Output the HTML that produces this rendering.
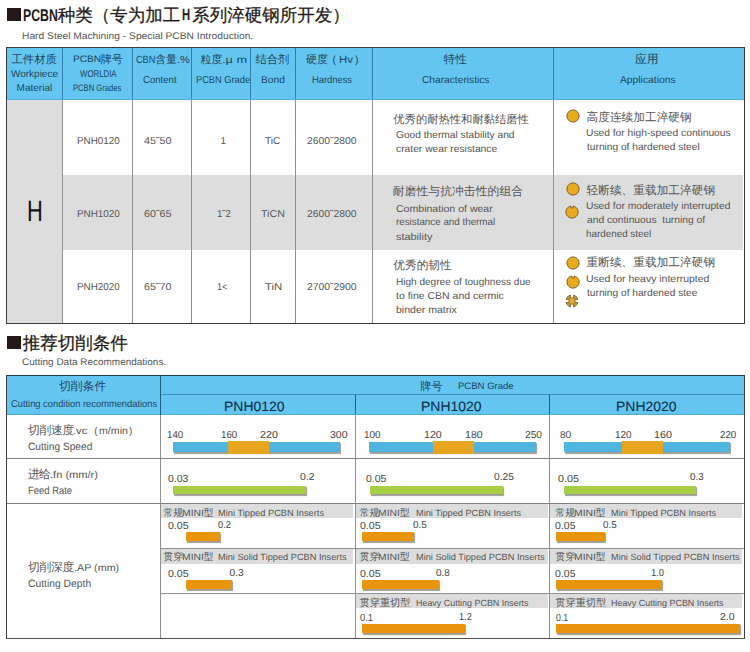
<!DOCTYPE html>
<html><head><meta charset="utf-8"><title>PCBN</title>
<style>
html,body{margin:0;padding:0;background:#fff;}
body{width:750px;height:652px;overflow:hidden;position:relative;font-family:"Liberation Sans",sans-serif;text-rendering:geometricPrecision;}
.t{position:absolute;white-space:nowrap;transform-origin:0 50%;}
.r{position:absolute;}
.ic{position:absolute;}
b.c{display:inline-block;font-weight:normal;text-align:center;}
.med b.c{-webkit-text-stroke:0.25px #231815;}
</style></head><body>
<div class="r" style="left:7.00px;top:7.50px;width:14.00px;height:13.50px;background:#231815;"></div>
<div id="t1" class="t " style="left:22.79px;top:6.80px;font-size:17.00px;line-height:17.00px;color:#231815;transform:scaleX(0.7234);font-weight:bold;">PCBN</div>
<div id="t2" class="t med" style="left:57.80px;top:6.80px;font-size:17.50px;line-height:17.50px;color:#231815;"><b class="c" style="width:17.50px">种</b><b class="c" style="width:17.50px">类</b><b class="c" style="width:17.50px">（</b><b class="c" style="width:17.50px">专</b><b class="c" style="width:17.50px">为</b><b class="c" style="width:17.50px">加</b><b class="c" style="width:17.50px">工</b></div>
<div id="t3" class="t " style="left:182.16px;top:7.30px;font-size:16.50px;line-height:16.50px;color:#231815;transform:scaleX(0.6818);font-weight:bold;">H</div>
<div id="t4" class="t med" style="left:192.20px;top:6.80px;font-size:17.50px;line-height:17.50px;color:#231815;"><b class="c" style="width:17.50px">系</b><b class="c" style="width:17.50px">列</b><b class="c" style="width:17.50px">淬</b><b class="c" style="width:17.50px">硬</b><b class="c" style="width:17.50px">钢</b><b class="c" style="width:17.50px">所</b><b class="c" style="width:17.50px">开</b><b class="c" style="width:17.50px">发</b><b class="c" style="width:17.50px">）</b></div>
<div id="t5" class="t " style="left:21.75px;top:31.70px;font-size:9.60px;line-height:9.60px;color:#555;transform:scaleX(1.0679);">Hard Steel Machining - Special PCBN Introduction.</div>
<div class="r" style="left:6.00px;top:47.00px;width:739.00px;height:52.50px;background:#64c6f0;"></div>
<div class="r" style="left:6.00px;top:99.50px;width:56.50px;height:224.00px;background:#dddddd;"></div>
<div class="r" style="left:62.50px;top:174.50px;width:680.00px;height:75.00px;background:#dddddd;"></div>
<div class="r" style="left:62.00px;top:47.50px;width:1.00px;height:52.00px;background:#2f7fae;"></div>
<div class="r" style="left:62.00px;top:99.50px;width:1.00px;height:224.00px;background:#909090;"></div>
<div class="r" style="left:132.00px;top:47.50px;width:1.00px;height:52.00px;background:#2f7fae;"></div>
<div class="r" style="left:132.00px;top:99.50px;width:1.00px;height:224.00px;background:#909090;"></div>
<div class="r" style="left:191.00px;top:47.50px;width:1.00px;height:52.00px;background:#2f7fae;"></div>
<div class="r" style="left:191.00px;top:99.50px;width:1.00px;height:224.00px;background:#909090;"></div>
<div class="r" style="left:249.50px;top:47.50px;width:1.00px;height:52.00px;background:#2f7fae;"></div>
<div class="r" style="left:249.50px;top:99.50px;width:1.00px;height:224.00px;background:#909090;"></div>
<div class="r" style="left:295.00px;top:47.50px;width:1.00px;height:52.00px;background:#2f7fae;"></div>
<div class="r" style="left:295.00px;top:99.50px;width:1.00px;height:224.00px;background:#909090;"></div>
<div class="r" style="left:372.00px;top:47.50px;width:1.00px;height:52.00px;background:#2f7fae;"></div>
<div class="r" style="left:372.00px;top:99.50px;width:1.00px;height:224.00px;background:#909090;"></div>
<div class="r" style="left:552.50px;top:47.50px;width:1.00px;height:52.00px;background:#2f7fae;"></div>
<div class="r" style="left:552.50px;top:99.50px;width:1.00px;height:224.00px;background:#909090;"></div>
<div class="r" style="left:6.00px;top:99.00px;width:739.00px;height:1.00px;background:#4fb0dc;"></div>
<div class="r" style="left:6.00px;top:47.00px;width:739.00px;height:1.00px;background:#3c3c3c;"></div>
<div class="r" style="left:6.00px;top:323.00px;width:739.00px;height:1.00px;background:#3c3c3c;"></div>
<div class="r" style="left:6.00px;top:47.00px;width:1.00px;height:277.00px;background:#3c3c3c;"></div>
<div class="r" style="left:744.00px;top:47.00px;width:1.00px;height:277.00px;background:#3c3c3c;"></div>
<div id="t6" class="t " style="left:11.40px;top:54.60px;font-size:11.40px;line-height:11.40px;color:#1c4560;"><b class="c" style="width:11.40px">工</b><b class="c" style="width:11.40px">件</b><b class="c" style="width:11.40px">材</b><b class="c" style="width:11.40px">质</b></div>
<div id="t7" class="t " style="left:11.00px;top:70.20px;font-size:10.00px;line-height:10.00px;color:#1c4560;transform:scaleX(0.9979);">Workpiece</div>
<div id="t8" class="t " style="left:16.60px;top:84.40px;font-size:10.00px;line-height:10.00px;color:#1c4560;">Material</div>
<div id="t9" class="t " style="left:72.92px;top:54.20px;font-size:9.40px;line-height:9.40px;color:#1c4560;transform:scaleX(1.0800);">PCBN</div>
<div id="t10" class="t " style="left:100.60px;top:54.60px;font-size:11.20px;line-height:11.20px;color:#1c4560;"><b class="c" style="width:11.20px">牌</b><b class="c" style="width:11.20px">号</b></div>
<div id="t11" class="t " style="left:79.91px;top:69.90px;font-size:9.80px;line-height:9.80px;color:#1c4560;transform:scaleX(0.8000);">WORLDIA</div>
<div id="t12" class="t " style="left:73.19px;top:83.30px;font-size:9.40px;line-height:9.40px;color:#1c4560;transform:scaleX(0.8138);">PCBN Grades</div>
<div id="t13" class="t " style="left:136.43px;top:54.70px;font-size:10.50px;line-height:10.50px;color:#1c4560;transform:scaleX(0.8714);">CBN</div>
<div id="t14" class="t " style="left:154.90px;top:54.70px;font-size:11.00px;line-height:11.00px;color:#1c4560;"><b class="c" style="width:11.00px">含</b><b class="c" style="width:11.00px">量</b></div>
<div id="t15" class="t " style="left:176.56px;top:54.70px;font-size:10.50px;line-height:10.50px;color:#1c4560;transform:scaleX(1.0545);">.%</div>
<div id="t16" class="t " style="left:142.61px;top:75.90px;font-size:10.00px;line-height:10.00px;color:#1c4560;transform:scaleX(0.9600);">Content</div>
<div id="t17" class="t " style="left:200.60px;top:54.70px;font-size:11.00px;line-height:11.00px;color:#1c4560;"><b class="c" style="width:11.00px">粒</b><b class="c" style="width:11.00px">度</b></div>
<div id="t18" class="t " style="left:222.26px;top:55.70px;font-size:10.00px;line-height:10.00px;color:#1c4560;transform:scaleX(1.2778);">.µ m</div>
<div id="t19" class="t " style="left:195.87px;top:75.90px;font-size:10.00px;line-height:10.00px;color:#1c4560;transform:scaleX(0.9263);">PCBN Grade</div>
<div id="t20" class="t " style="left:255.40px;top:54.70px;font-size:11.30px;line-height:11.30px;color:#1c4560;"><b class="c" style="width:11.30px">结</b><b class="c" style="width:11.30px">合</b><b class="c" style="width:11.30px">剂</b></div>
<div id="t21" class="t " style="left:260.99px;top:75.70px;font-size:10.00px;line-height:10.00px;color:#1c4560;transform:scaleX(1.0227);">Bond</div>
<div id="t22" class="t " style="left:306.00px;top:54.70px;font-size:11.00px;line-height:11.00px;color:#1c4560;"><b class="c" style="width:11.00px">硬</b><b class="c" style="width:11.00px">度</b></div>
<div id="t23" class="t " style="left:332.60px;top:54.70px;font-size:10.50px;line-height:10.50px;color:#1c4560;">(</div>
<div id="t24" class="t " style="left:338.70px;top:54.70px;font-size:10.50px;line-height:10.50px;color:#1c4560;transform:scaleX(1.0833);">Hv</div>
<div id="t25" class="t " style="left:355.00px;top:54.70px;font-size:10.50px;line-height:10.50px;color:#1c4560;">)</div>
<div id="t26" class="t " style="left:311.61px;top:75.90px;font-size:10.00px;line-height:10.00px;color:#1c4560;transform:scaleX(0.9357);">Hardness</div>
<div id="t27" class="t " style="left:443.60px;top:53.70px;font-size:11.60px;line-height:11.60px;color:#1c4560;"><b class="c" style="width:11.60px">特</b><b class="c" style="width:11.60px">性</b></div>
<div id="t28" class="t " style="left:422.00px;top:76.20px;font-size:10.00px;line-height:10.00px;color:#1c4560;transform:scaleX(1.0197);">Characteristics</div>
<div id="t29" class="t " style="left:635.00px;top:53.70px;font-size:11.80px;line-height:11.80px;color:#1c4560;"><b class="c" style="width:11.80px">应</b><b class="c" style="width:11.80px">用</b></div>
<div id="t30" class="t " style="left:620.38px;top:76.30px;font-size:10.00px;line-height:10.00px;color:#1c4560;transform:scaleX(1.0302);">Applications</div>
<div id="t31" class="t " style="left:26.65px;top:196.80px;font-size:29.50px;line-height:29.50px;color:#111;transform:scaleX(0.7412);">H</div>
<div id="t32" class="t " style="left:76.60px;top:136.90px;font-size:10.00px;line-height:10.00px;color:#555555;transform:scaleX(0.9860);">PNH0120</div>
<div id="t33" class="t " style="left:144.33px;top:136.90px;font-size:10.00px;line-height:10.00px;color:#555555;transform:scaleX(1.0720);">45˜50</div>
<div id="t34" class="t " style="left:220.60px;top:136.90px;font-size:10.00px;line-height:10.00px;color:#555555;">1</div>
<div id="t35" class="t " style="left:265.39px;top:136.90px;font-size:10.00px;line-height:10.00px;color:#555555;transform:scaleX(1.0133);">TiC</div>
<div id="t36" class="t " style="left:307.00px;top:136.90px;font-size:10.00px;line-height:10.00px;color:#555555;transform:scaleX(1.0354);">2600˜2800</div>
<div id="t37" class="t " style="left:76.60px;top:210.00px;font-size:10.00px;line-height:10.00px;color:#555555;transform:scaleX(0.9860);">PNH1020</div>
<div id="t38" class="t " style="left:144.33px;top:210.00px;font-size:10.00px;line-height:10.00px;color:#555555;transform:scaleX(1.0720);">60˜65</div>
<div id="t39" class="t " style="left:216.61px;top:210.00px;font-size:10.00px;line-height:10.00px;color:#555555;transform:scaleX(0.9571);">1˜2</div>
<div id="t40" class="t " style="left:261.17px;top:210.00px;font-size:10.00px;line-height:10.00px;color:#555555;transform:scaleX(1.0667);">TiCN</div>
<div id="t41" class="t " style="left:307.00px;top:210.00px;font-size:10.00px;line-height:10.00px;color:#555555;transform:scaleX(1.0354);">2600˜2800</div>
<div id="t42" class="t " style="left:76.60px;top:282.70px;font-size:10.00px;line-height:10.00px;color:#555555;transform:scaleX(0.9860);">PNH2020</div>
<div id="t43" class="t " style="left:144.33px;top:282.70px;font-size:10.00px;line-height:10.00px;color:#555555;transform:scaleX(1.0720);">65˜70</div>
<div id="t44" class="t " style="left:216.62px;top:282.70px;font-size:10.00px;line-height:10.00px;color:#555555;transform:scaleX(0.9091);">1&lt;</div>
<div id="t45" class="t " style="left:264.57px;top:282.70px;font-size:10.00px;line-height:10.00px;color:#555555;transform:scaleX(1.1429);">TiN</div>
<div id="t46" class="t " style="left:307.00px;top:282.70px;font-size:10.00px;line-height:10.00px;color:#555555;transform:scaleX(1.0354);">2700˜2900</div>
<div id="t47" class="t " style="left:393.30px;top:114.50px;font-size:11.30px;line-height:11.30px;color:#555555;"><b class="c" style="width:11.30px">优</b><b class="c" style="width:11.30px">秀</b><b class="c" style="width:11.30px">的</b><b class="c" style="width:11.30px">耐</b><b class="c" style="width:11.30px">热</b><b class="c" style="width:11.30px">性</b><b class="c" style="width:11.30px">和</b><b class="c" style="width:11.30px">耐</b><b class="c" style="width:11.30px">黏</b><b class="c" style="width:11.30px">结</b><b class="c" style="width:11.30px">磨</b><b class="c" style="width:11.30px">性</b></div>
<div id="t48" class="t " style="left:395.59px;top:130.60px;font-size:10.00px;line-height:10.00px;color:#555555;transform:scaleX(1.0198);">Good thermal stability and</div>
<div id="t49" class="t " style="left:395.59px;top:145.10px;font-size:10.00px;line-height:10.00px;color:#555555;transform:scaleX(1.0286);">crater wear resistance</div>
<div id="t50" class="t " style="left:392.80px;top:186.00px;font-size:11.85px;line-height:11.85px;color:#555555;"><b class="c" style="width:11.85px">耐</b><b class="c" style="width:11.85px">磨</b><b class="c" style="width:11.85px">性</b><b class="c" style="width:11.85px">与</b><b class="c" style="width:11.85px">抗</b><b class="c" style="width:11.85px">冲</b><b class="c" style="width:11.85px">击</b><b class="c" style="width:11.85px">性</b><b class="c" style="width:11.85px">的</b><b class="c" style="width:11.85px">组</b><b class="c" style="width:11.85px">合</b></div>
<div id="t51" class="t " style="left:395.59px;top:204.60px;font-size:10.00px;line-height:10.00px;color:#555555;transform:scaleX(1.0549);">Combination of wear</div>
<div id="t52" class="t " style="left:395.60px;top:218.40px;font-size:10.00px;line-height:10.00px;color:#555555;transform:scaleX(0.9802);">resistance and thermal</div>
<div id="t53" class="t " style="left:395.58px;top:232.70px;font-size:10.00px;line-height:10.00px;color:#555555;transform:scaleX(1.0909);">stability</div>
<div id="t54" class="t " style="left:393.30px;top:259.50px;font-size:11.70px;line-height:11.70px;color:#555555;"><b class="c" style="width:11.70px">优</b><b class="c" style="width:11.70px">秀</b><b class="c" style="width:11.70px">的</b><b class="c" style="width:11.70px">韧</b><b class="c" style="width:11.70px">性</b></div>
<div id="t55" class="t " style="left:395.60px;top:278.30px;font-size:10.00px;line-height:10.00px;color:#555555;transform:scaleX(1.0045);">High degree of toughness due</div>
<div id="t56" class="t " style="left:395.59px;top:292.10px;font-size:10.00px;line-height:10.00px;color:#555555;transform:scaleX(1.0490);">to fine CBN and cermic</div>
<div id="t57" class="t " style="left:395.59px;top:305.90px;font-size:10.00px;line-height:10.00px;color:#555555;transform:scaleX(1.0526);">binder matrix</div>
<div id="t58" class="t " style="left:586.50px;top:112.00px;font-size:11.70px;line-height:11.70px;color:#555555;"><b class="c" style="width:11.70px">高</b><b class="c" style="width:11.70px">度</b><b class="c" style="width:11.70px">连</b><b class="c" style="width:11.70px">续</b><b class="c" style="width:11.70px">加</b><b class="c" style="width:11.70px">工</b><b class="c" style="width:11.70px">淬</b><b class="c" style="width:11.70px">硬</b><b class="c" style="width:11.70px">钢</b></div>
<div id="t59" class="t " style="left:585.98px;top:129.40px;font-size:10.00px;line-height:10.00px;color:#555555;transform:scaleX(1.0243);">Used for high-speed continuous</div>
<div id="t60" class="t " style="left:587.00px;top:143.00px;font-size:10.00px;line-height:10.00px;color:#555555;transform:scaleX(1.0182);">turning of hardened steel</div>
<div id="t61" class="t " style="left:586.50px;top:185.00px;font-size:11.70px;line-height:11.70px;color:#555555;"><b class="c" style="width:11.70px">轻</b><b class="c" style="width:11.70px">断</b><b class="c" style="width:11.70px">续</b><b class="c" style="width:11.70px">、</b><b class="c" style="width:11.70px">重</b><b class="c" style="width:11.70px">载</b><b class="c" style="width:11.70px">加</b><b class="c" style="width:11.70px">工</b><b class="c" style="width:11.70px">淬</b><b class="c" style="width:11.70px">硬</b><b class="c" style="width:11.70px">钢</b></div>
<div id="t62" class="t " style="left:585.97px;top:202.30px;font-size:10.00px;line-height:10.00px;color:#555555;transform:scaleX(1.0266);">Used for moderately interrupted</div>
<div id="t63" class="t " style="left:587.00px;top:216.20px;font-size:10.00px;line-height:10.00px;color:#555555;transform:scaleX(1.0261);white-space:pre;">and continuous  turning of</div>
<div id="t64" class="t " style="left:586.02px;top:230.20px;font-size:10.00px;line-height:10.00px;color:#555555;transform:scaleX(0.9846);">hardened steel</div>
<div id="t65" class="t " style="left:586.50px;top:257.40px;font-size:11.70px;line-height:11.70px;color:#555555;"><b class="c" style="width:11.70px">重</b><b class="c" style="width:11.70px">断</b><b class="c" style="width:11.70px">续</b><b class="c" style="width:11.70px">、</b><b class="c" style="width:11.70px">重</b><b class="c" style="width:11.70px">载</b><b class="c" style="width:11.70px">加</b><b class="c" style="width:11.70px">工</b><b class="c" style="width:11.70px">淬</b><b class="c" style="width:11.70px">硬</b><b class="c" style="width:11.70px">钢</b></div>
<div id="t66" class="t " style="left:585.95px;top:275.30px;font-size:10.00px;line-height:10.00px;color:#555555;transform:scaleX(1.0466);">Used for heavy interrupted</div>
<div id="t67" class="t " style="left:587.00px;top:289.40px;font-size:10.00px;line-height:10.00px;color:#555555;transform:scaleX(1.0185);">turning of hardened stee</div>
<svg class="ic" style="left:564.50px;top:108.30px" width="16" height="16" viewBox="-8 -8 16 16"><circle r="6.10" fill="#eaaa1e" stroke="#7d6224" stroke-width="1"/></svg>
<svg class="ic" style="left:564.50px;top:181.40px" width="16" height="16" viewBox="-8 -8 16 16"><circle r="6.10" fill="#eaaa1e" stroke="#7d6224" stroke-width="1"/></svg>
<svg class="ic" style="left:564.30px;top:203.80px" width="16" height="16" viewBox="-8 -8 16 16"><path d="M-1.1,-6.0 A6.1,6.1 0 1 0 1.1,-6.0 L0.9,-4.0 L-0.9,-4.0 Z" fill="#eaaa1e" stroke="#7d6224" stroke-width="1" stroke-linejoin="round"/></svg>
<svg class="ic" style="left:564.50px;top:255.10px" width="16" height="16" viewBox="-8 -8 16 16"><circle r="6.10" fill="#eaaa1e" stroke="#7d6224" stroke-width="1"/></svg>
<svg class="ic" style="left:564.50px;top:274.40px" width="16" height="16" viewBox="-8 -8 16 16"><path d="M-1.1,-6.0 A6.1,6.1 0 1 0 1.1,-6.0 L0.9,-4.0 L-0.9,-4.0 Z" fill="#eaaa1e" stroke="#7d6224" stroke-width="1" stroke-linejoin="round"/></svg>
<svg class="ic" style="left:564.20px;top:293.00px" width="16" height="16" viewBox="-8 -8 16 16"><path d="M-1.6,-5.9 L-1.6,-3.0 L1.6,-3.0 L1.6,-5.9 A6.1,6.1 0 0 1 5.9,-1.6 L3.0,-1.6 L3.0,1.6 L5.9,1.6 A6.1,6.1 0 0 1 1.6,5.9 L1.6,3.0 L-1.6,3.0 L-1.6,5.9 A6.1,6.1 0 0 1 -5.9,1.6 L-3.0,1.6 L-3.0,-1.6 L-5.9,-1.6 A6.1,6.1 0 0 1 -1.6,-5.9 Z" fill="#c99d35" stroke="#7d6224" stroke-width="0.9" stroke-linejoin="round"/><rect x="-2.8" y="-2.8" width="5.6" height="5.6" fill="#e6ae2c" stroke="#9a7a30" stroke-width="0.6"/></svg>
<div class="r" style="left:7.00px;top:335.60px;width:13.80px;height:13.40px;background:#231815;"></div>
<div id="t68" class="t med" style="left:22.80px;top:335.20px;font-size:17.50px;line-height:17.50px;color:#231815;"><b class="c" style="width:17.50px">推</b><b class="c" style="width:17.50px">荐</b><b class="c" style="width:17.50px">切</b><b class="c" style="width:17.50px">削</b><b class="c" style="width:17.50px">条</b><b class="c" style="width:17.50px">件</b></div>
<div id="t69" class="t " style="left:22.38px;top:358.00px;font-size:9.60px;line-height:9.60px;color:#555;transform:scaleX(1.0399);">Cutting Data Recommendations.</div>
<div class="r" style="left:6.00px;top:375.00px;width:739.00px;height:39.50px;background:#64c6f0;"></div>
<div class="r" style="left:160.00px;top:394.30px;width:585.00px;height:1.00px;background:#3d8fbf;"></div>
<div class="r" style="left:6.00px;top:414.00px;width:739.00px;height:1.00px;background:#4fa8d0;"></div>
<div class="r" style="left:159.50px;top:375.50px;width:1.00px;height:39.00px;background:#1f5f80;"></div>
<div class="r" style="left:159.50px;top:414.50px;width:1.00px;height:224.00px;background:#909090;"></div>
<div class="r" style="left:354.50px;top:394.80px;width:1.00px;height:19.70px;background:#1f5f80;"></div>
<div class="r" style="left:354.50px;top:414.50px;width:1.00px;height:224.00px;background:#909090;"></div>
<div class="r" style="left:549.30px;top:394.80px;width:1.00px;height:19.70px;background:#1f5f80;"></div>
<div class="r" style="left:549.30px;top:414.50px;width:1.00px;height:224.00px;background:#909090;"></div>
<div class="r" style="left:6.00px;top:458.00px;width:739.00px;height:1.00px;background:#808080;"></div>
<div class="r" style="left:6.00px;top:503.00px;width:739.00px;height:1.00px;background:#808080;"></div>
<div class="r" style="left:160.50px;top:503.50px;width:192.50px;height:14.70px;background:#dddddd;"></div>
<div class="r" style="left:160.50px;top:548.50px;width:192.50px;height:15.10px;background:#dddddd;"></div>
<div class="r" style="left:160.00px;top:548.00px;width:195.00px;height:1.00px;background:#909090;"></div>
<div class="r" style="left:160.00px;top:593.30px;width:195.00px;height:1.00px;background:#909090;"></div>
<div class="r" style="left:355.50px;top:503.50px;width:192.30px;height:14.70px;background:#dddddd;"></div>
<div class="r" style="left:355.50px;top:548.50px;width:192.30px;height:15.10px;background:#dddddd;"></div>
<div class="r" style="left:355.50px;top:593.80px;width:192.30px;height:14.60px;background:#dddddd;"></div>
<div class="r" style="left:355.00px;top:548.00px;width:194.80px;height:1.00px;background:#909090;"></div>
<div class="r" style="left:355.00px;top:593.30px;width:194.80px;height:1.00px;background:#909090;"></div>
<div class="r" style="left:550.30px;top:503.50px;width:191.70px;height:14.70px;background:#dddddd;"></div>
<div class="r" style="left:550.30px;top:548.50px;width:191.70px;height:15.10px;background:#dddddd;"></div>
<div class="r" style="left:550.30px;top:593.80px;width:191.70px;height:14.60px;background:#dddddd;"></div>
<div class="r" style="left:549.80px;top:548.00px;width:194.20px;height:1.00px;background:#909090;"></div>
<div class="r" style="left:549.80px;top:593.30px;width:194.20px;height:1.00px;background:#909090;"></div>
<div class="r" style="left:6.00px;top:375.00px;width:739.00px;height:1.00px;background:#1c3f52;"></div>
<div class="r" style="left:6.00px;top:638.00px;width:739.00px;height:1.00px;background:#505050;"></div>
<div class="r" style="left:6.00px;top:375.00px;width:1.00px;height:264.00px;background:#404040;"></div>
<div class="r" style="left:744.00px;top:375.00px;width:1.00px;height:264.00px;background:#404040;"></div>
<div id="t70" class="t " style="left:59.00px;top:380.80px;font-size:11.80px;line-height:11.80px;color:#1c4560;"><b class="c" style="width:11.80px">切</b><b class="c" style="width:11.80px">削</b><b class="c" style="width:11.80px">条</b><b class="c" style="width:11.80px">件</b></div>
<div id="t71" class="t " style="left:11.00px;top:400.20px;font-size:10.00px;line-height:10.00px;color:#1c4560;transform:scaleX(0.9318);">Cutting condition recommendations</div>
<div id="t72" class="t " style="left:420.00px;top:381.60px;font-size:11.30px;line-height:11.30px;color:#1c4560;"><b class="c" style="width:11.30px">牌</b><b class="c" style="width:11.30px">号</b></div>
<div id="t73" class="t " style="left:458.37px;top:381.30px;font-size:9.40px;line-height:9.40px;color:#1c4560;transform:scaleX(1.0167);">PCBN Grade</div>
<div id="t74" class="t " style="left:224.18px;top:399.80px;font-size:13.60px;line-height:13.60px;color:#0e2f4a;transform:scaleX(1.0276);-webkit-text-stroke:0.1px #0e2f4a;">PNH0120</div>
<div id="t75" class="t " style="left:420.76px;top:399.80px;font-size:13.60px;line-height:13.60px;color:#0e2f4a;transform:scaleX(1.0276);-webkit-text-stroke:0.1px #0e2f4a;">PNH1020</div>
<div id="t76" class="t " style="left:615.56px;top:399.80px;font-size:13.60px;line-height:13.60px;color:#0e2f4a;transform:scaleX(1.0276);-webkit-text-stroke:0.1px #0e2f4a;">PNH2020</div>
<div id="t77" class="t " style="left:27.90px;top:425.30px;font-size:11.80px;line-height:11.80px;color:#555555;"><b class="c" style="width:11.50px">切</b><b class="c" style="width:11.50px">削</b><b class="c" style="width:11.50px">速</b><b class="c" style="width:11.50px">度</b></div>
<div id="t78" class="t " style="left:73.45px;top:427.10px;font-size:10.00px;line-height:10.00px;color:#555555;transform:scaleX(1.1182);">.vc</div>
<div id="t79" class="t " style="left:94.30px;top:427.10px;font-size:10.00px;line-height:10.00px;color:#555555;">(</div>
<div id="t80" class="t " style="left:98.75px;top:427.10px;font-size:10.00px;line-height:10.00px;color:#555555;transform:scaleX(1.0615);">m/min</div>
<div id="t81" class="t " style="left:129.00px;top:427.10px;font-size:10.00px;line-height:10.00px;color:#555555;">)</div>
<div id="t82" class="t " style="left:27.61px;top:441.90px;font-size:10.60px;line-height:10.60px;color:#555555;transform:scaleX(0.9576);">Cutting Speed</div>
<div id="t83" class="t " style="left:27.90px;top:468.80px;font-size:11.80px;line-height:11.80px;color:#555555;"><b class="c" style="width:11.20px">进</b><b class="c" style="width:11.20px">给</b></div>
<div id="t84" class="t " style="left:49.52px;top:470.70px;font-size:10.00px;line-height:10.00px;color:#555555;transform:scaleX(1.1071);">.fn (mm/r)</div>
<div id="t85" class="t " style="left:27.62px;top:485.80px;font-size:10.60px;line-height:10.60px;color:#555555;transform:scaleX(0.8918);">Feed Rate</div>
<div id="t86" class="t " style="left:27.90px;top:562.20px;font-size:11.80px;line-height:11.80px;color:#555555;"><b class="c" style="width:11.50px">切</b><b class="c" style="width:11.50px">削</b><b class="c" style="width:11.50px">深</b><b class="c" style="width:11.50px">度</b></div>
<div id="t87" class="t " style="left:73.51px;top:563.60px;font-size:10.00px;line-height:10.00px;color:#555555;transform:scaleX(1.0750);">.AP (mm)</div>
<div id="t88" class="t " style="left:27.60px;top:578.70px;font-size:10.60px;line-height:10.60px;color:#555555;transform:scaleX(0.9750);">Cutting Depth</div>
<div class="r" style="left:172.50px;top:442.40px;width:167.50px;height:10.00px;background:#4eb4e0;box-shadow:1px 1.3px 1px rgba(80,75,60,0.55);border-radius:0.5px;"></div>
<div class="r" style="left:227.50px;top:441.30px;width:41.30px;height:12.40px;background:#e8a520;"></div>
<div class="r" style="left:369.10px;top:442.40px;width:166.80px;height:10.00px;background:#4eb4e0;box-shadow:1px 1.3px 1px rgba(80,75,60,0.55);border-radius:0.5px;"></div>
<div class="r" style="left:432.50px;top:441.30px;width:41.30px;height:12.40px;background:#e8a520;"></div>
<div class="r" style="left:563.60px;top:442.40px;width:166.80px;height:10.00px;background:#4eb4e0;box-shadow:1px 1.3px 1px rgba(80,75,60,0.55);border-radius:0.5px;"></div>
<div class="r" style="left:622.40px;top:441.30px;width:41.00px;height:12.40px;background:#e8a520;"></div>
<div id="t89" class="t " style="left:167.05px;top:431.40px;font-size:10.20px;line-height:10.20px;color:#454545;transform:scaleX(0.9500);">140</div>
<div id="t90" class="t " style="left:220.63px;top:431.40px;font-size:10.20px;line-height:10.20px;color:#454545;transform:scaleX(0.9500);">160</div>
<div id="t91" class="t " style="left:259.98px;top:431.40px;font-size:10.20px;line-height:10.20px;color:#454545;transform:scaleX(1.0500);">220</div>
<div id="t92" class="t " style="left:330.38px;top:431.40px;font-size:10.20px;line-height:10.20px;color:#454545;transform:scaleX(1.0312);">300</div>
<div id="t93" class="t " style="left:364.02px;top:431.40px;font-size:10.20px;line-height:10.20px;color:#454545;transform:scaleX(0.9750);">100</div>
<div id="t94" class="t " style="left:423.96px;top:431.40px;font-size:10.20px;line-height:10.20px;color:#454545;transform:scaleX(1.0375);">120</div>
<div id="t95" class="t " style="left:464.96px;top:431.40px;font-size:10.20px;line-height:10.20px;color:#454545;transform:scaleX(1.0375);">180</div>
<div id="t96" class="t " style="left:525.00px;top:431.40px;font-size:10.20px;line-height:10.20px;color:#454545;">250</div>
<div id="t97" class="t " style="left:560.20px;top:431.40px;font-size:10.20px;line-height:10.20px;color:#454545;transform:scaleX(0.9909);">80</div>
<div id="t98" class="t " style="left:615.02px;top:431.40px;font-size:10.20px;line-height:10.20px;color:#454545;transform:scaleX(0.9688);">120</div>
<div id="t99" class="t " style="left:654.32px;top:431.40px;font-size:10.20px;line-height:10.20px;color:#454545;transform:scaleX(1.0533);">160</div>
<div id="t100" class="t " style="left:720.00px;top:431.40px;font-size:10.20px;line-height:10.20px;color:#454545;transform:scaleX(0.9588);">220</div>
<div class="r" style="left:172.50px;top:485.80px;width:133.00px;height:8.60px;background:#a9cf46;box-shadow:1px 1.3px 1px rgba(80,75,60,0.55);border-radius:0.5px;"></div>
<div class="r" style="left:370.00px;top:485.80px;width:132.70px;height:8.60px;background:#a9cf46;box-shadow:1px 1.3px 1px rgba(80,75,60,0.55);border-radius:0.5px;"></div>
<div class="r" style="left:563.60px;top:485.80px;width:132.10px;height:8.60px;background:#a9cf46;box-shadow:1px 1.3px 1px rgba(80,75,60,0.55);border-radius:0.5px;"></div>
<div id="t101" class="t " style="left:167.99px;top:474.70px;font-size:10.20px;line-height:10.20px;color:#454545;transform:scaleX(1.0263);">0.03</div>
<div id="t102" class="t " style="left:299.98px;top:473.30px;font-size:10.20px;line-height:10.20px;color:#454545;transform:scaleX(1.0308);">0.2</div>
<div id="t103" class="t " style="left:365.79px;top:474.70px;font-size:10.20px;line-height:10.20px;color:#454545;transform:scaleX(1.0316);">0.05</div>
<div id="t104" class="t " style="left:494.00px;top:473.30px;font-size:10.20px;line-height:10.20px;color:#454545;">0.25</div>
<div id="t105" class="t " style="left:558.34px;top:474.70px;font-size:10.20px;line-height:10.20px;color:#454545;transform:scaleX(1.0526);">0.05</div>
<div id="t106" class="t " style="left:690.40px;top:473.30px;font-size:10.20px;line-height:10.20px;color:#454545;transform:scaleX(0.9714);">0.3</div>
<div id="t107" class="t " style="left:163.20px;top:509.10px;font-size:10.00px;line-height:10.00px;color:#555555;"><b class="c" style="width:10.00px">常</b><b class="c" style="width:10.00px">规</b></div>
<div id="t108" class="t " style="left:182.14px;top:508.80px;font-size:9.20px;line-height:9.20px;color:#555555;transform:scaleX(1.1278);">MINI</div>
<div id="t109" class="t " style="left:203.50px;top:509.10px;font-size:10.00px;line-height:10.00px;color:#555555;"><b class="c" style="width:10.00px">型</b></div>
<div id="t110" class="t " style="left:218.36px;top:508.90px;font-size:9.00px;line-height:9.00px;color:#555555;transform:scaleX(1.0294);">Mini Tipped PCBN Inserts</div>
<div id="t111" class="t " style="left:163.20px;top:553.40px;font-size:10.00px;line-height:10.00px;color:#555555;"><b class="c" style="width:10.00px">贯</b><b class="c" style="width:10.00px">穿</b></div>
<div id="t112" class="t " style="left:182.14px;top:553.10px;font-size:9.20px;line-height:9.20px;color:#555555;transform:scaleX(1.1278);">MINI</div>
<div id="t113" class="t " style="left:203.50px;top:553.40px;font-size:10.00px;line-height:10.00px;color:#555555;"><b class="c" style="width:10.00px">型</b></div>
<div id="t114" class="t " style="left:218.37px;top:553.20px;font-size:9.00px;line-height:9.00px;color:#555555;transform:scaleX(1.0240);">Mini Solid Tipped PCBN Inserts</div>
<div id="t115" class="t " style="left:359.50px;top:509.10px;font-size:10.00px;line-height:10.00px;color:#555555;"><b class="c" style="width:10.00px">常</b><b class="c" style="width:10.00px">规</b></div>
<div id="t116" class="t " style="left:377.65px;top:508.80px;font-size:9.20px;line-height:9.20px;color:#555555;transform:scaleX(1.1278);">MINI</div>
<div id="t117" class="t " style="left:399.80px;top:509.10px;font-size:10.00px;line-height:10.00px;color:#555555;"><b class="c" style="width:10.00px">型</b></div>
<div id="t118" class="t " style="left:415.59px;top:508.90px;font-size:9.00px;line-height:9.00px;color:#555555;transform:scaleX(1.0194);">Mini Tipped PCBN Inserts</div>
<div id="t119" class="t " style="left:359.50px;top:553.40px;font-size:10.00px;line-height:10.00px;color:#555555;"><b class="c" style="width:10.00px">贯</b><b class="c" style="width:10.00px">穿</b></div>
<div id="t120" class="t " style="left:377.65px;top:553.10px;font-size:9.20px;line-height:9.20px;color:#555555;transform:scaleX(1.1278);">MINI</div>
<div id="t121" class="t " style="left:399.80px;top:553.40px;font-size:10.00px;line-height:10.00px;color:#555555;"><b class="c" style="width:10.00px">型</b></div>
<div id="t122" class="t " style="left:415.59px;top:553.20px;font-size:9.00px;line-height:9.00px;color:#555555;transform:scaleX(1.0240);">Mini Solid Tipped PCBN Inserts</div>
<div id="t123" class="t " style="left:359.50px;top:598.80px;font-size:10.20px;line-height:10.20px;color:#555555;"><b class="c" style="width:10.20px">贯</b><b class="c" style="width:10.20px">穿</b><b class="c" style="width:10.20px">重</b><b class="c" style="width:10.20px">切</b><b class="c" style="width:10.20px">型</b></div>
<div id="t124" class="t " style="left:415.60px;top:598.60px;font-size:9.00px;line-height:9.00px;color:#555555;transform:scaleX(0.9912);">Heavy Cutting PCBN Inserts</div>
<div id="t125" class="t " style="left:555.30px;top:509.10px;font-size:10.00px;line-height:10.00px;color:#555555;"><b class="c" style="width:10.00px">常</b><b class="c" style="width:10.00px">规</b></div>
<div id="t126" class="t " style="left:574.35px;top:508.80px;font-size:9.20px;line-height:9.20px;color:#555555;transform:scaleX(1.1278);">MINI</div>
<div id="t127" class="t " style="left:595.60px;top:509.10px;font-size:10.00px;line-height:10.00px;color:#555555;"><b class="c" style="width:10.00px">型</b></div>
<div id="t128" class="t " style="left:610.59px;top:508.90px;font-size:9.00px;line-height:9.00px;color:#555555;transform:scaleX(1.0194);">Mini Tipped PCBN Inserts</div>
<div id="t129" class="t " style="left:555.30px;top:553.40px;font-size:10.00px;line-height:10.00px;color:#555555;"><b class="c" style="width:10.00px">贯</b><b class="c" style="width:10.00px">穿</b></div>
<div id="t130" class="t " style="left:574.35px;top:553.10px;font-size:9.20px;line-height:9.20px;color:#555555;transform:scaleX(1.1278);">MINI</div>
<div id="t131" class="t " style="left:595.60px;top:553.40px;font-size:10.00px;line-height:10.00px;color:#555555;"><b class="c" style="width:10.00px">型</b></div>
<div id="t132" class="t " style="left:610.59px;top:553.20px;font-size:9.00px;line-height:9.00px;color:#555555;transform:scaleX(1.0240);">Mini Solid Tipped PCBN Inserts</div>
<div id="t133" class="t " style="left:555.30px;top:598.80px;font-size:10.20px;line-height:10.20px;color:#555555;"><b class="c" style="width:10.20px">贯</b><b class="c" style="width:10.20px">穿</b><b class="c" style="width:10.20px">重</b><b class="c" style="width:10.20px">切</b><b class="c" style="width:10.20px">型</b></div>
<div id="t134" class="t " style="left:610.60px;top:598.60px;font-size:9.00px;line-height:9.00px;color:#555555;transform:scaleX(0.9912);">Heavy Cutting PCBN Inserts</div>
<div class="r" style="left:186.20px;top:532.20px;width:34.10px;height:9.20px;background:#e8940c;box-shadow:1px 1.3px 1px rgba(80,75,60,0.55);border-radius:0.5px;"></div>
<div id="t135" class="t " style="left:167.98px;top:521.80px;font-size:10.20px;line-height:10.20px;color:#454545;transform:scaleX(1.0368);">0.05</div>
<div id="t136" class="t " style="left:218.19px;top:521.10px;font-size:10.20px;line-height:10.20px;color:#454545;transform:scaleX(0.9214);">0.2</div>
<div class="r" style="left:186.20px;top:580.20px;width:45.70px;height:8.60px;background:#e8940c;box-shadow:1px 1.3px 1px rgba(80,75,60,0.55);border-radius:0.5px;"></div>
<div id="t137" class="t " style="left:167.59px;top:569.50px;font-size:10.20px;line-height:10.20px;color:#454545;transform:scaleX(1.0368);">0.05</div>
<div id="t138" class="t " style="left:229.60px;top:568.50px;font-size:10.20px;line-height:10.20px;color:#454545;">0.3</div>
<div class="r" style="left:361.80px;top:532.20px;width:52.70px;height:9.20px;background:#e8940c;box-shadow:1px 1.3px 1px rgba(80,75,60,0.55);border-radius:0.5px;"></div>
<div id="t139" class="t " style="left:359.77px;top:521.80px;font-size:10.20px;line-height:10.20px;color:#454545;transform:scaleX(1.0368);">0.05</div>
<div id="t140" class="t " style="left:413.00px;top:521.10px;font-size:10.20px;line-height:10.20px;color:#454545;transform:scaleX(0.9714);">0.5</div>
<div class="r" style="left:361.80px;top:580.20px;width:77.10px;height:8.60px;background:#e8940c;box-shadow:1px 1.3px 1px rgba(80,75,60,0.55);border-radius:0.5px;"></div>
<div id="t141" class="t " style="left:359.77px;top:569.50px;font-size:10.20px;line-height:10.20px;color:#454545;transform:scaleX(1.0368);">0.05</div>
<div id="t142" class="t " style="left:436.00px;top:568.50px;font-size:10.20px;line-height:10.20px;color:#454545;transform:scaleX(0.9714);">0.8</div>
<div class="r" style="left:361.80px;top:624.20px;width:103.70px;height:9.20px;background:#e8940c;box-shadow:1px 1.3px 1px rgba(80,75,60,0.55);border-radius:0.5px;"></div>
<div id="t143" class="t " style="left:360.23px;top:613.80px;font-size:10.20px;line-height:10.20px;color:#454545;transform:scaleX(0.9231);">0.1</div>
<div id="t144" class="t " style="left:458.72px;top:613.00px;font-size:10.20px;line-height:10.20px;color:#454545;transform:scaleX(0.9000);">1.2</div>
<div class="r" style="left:556.00px;top:532.20px;width:49.30px;height:9.20px;background:#e8940c;box-shadow:1px 1.3px 1px rgba(80,75,60,0.55);border-radius:0.5px;"></div>
<div id="t145" class="t " style="left:554.77px;top:521.80px;font-size:10.20px;line-height:10.20px;color:#454545;transform:scaleX(1.0368);">0.05</div>
<div id="t146" class="t " style="left:603.00px;top:521.10px;font-size:10.20px;line-height:10.20px;color:#454545;transform:scaleX(0.9714);">0.5</div>
<div class="r" style="left:556.00px;top:580.20px;width:105.90px;height:8.60px;background:#e8940c;box-shadow:1px 1.3px 1px rgba(80,75,60,0.55);border-radius:0.5px;"></div>
<div id="t147" class="t " style="left:554.77px;top:569.50px;font-size:10.20px;line-height:10.20px;color:#454545;transform:scaleX(1.0368);">0.05</div>
<div id="t148" class="t " style="left:651.08px;top:568.50px;font-size:10.20px;line-height:10.20px;color:#454545;transform:scaleX(0.9231);">1.0</div>
<div class="r" style="left:556.00px;top:624.20px;width:183.70px;height:9.20px;background:#e8940c;box-shadow:1px 1.3px 1px rgba(80,75,60,0.55);border-radius:0.5px;"></div>
<div id="t149" class="t " style="left:556.00px;top:613.80px;font-size:10.20px;line-height:10.20px;color:#454545;transform:scaleX(0.8571);">0.1</div>
<div id="t150" class="t " style="left:720.18px;top:613.00px;font-size:10.20px;line-height:10.20px;color:#454545;transform:scaleX(1.0308);">2.0</div>
</body></html>
